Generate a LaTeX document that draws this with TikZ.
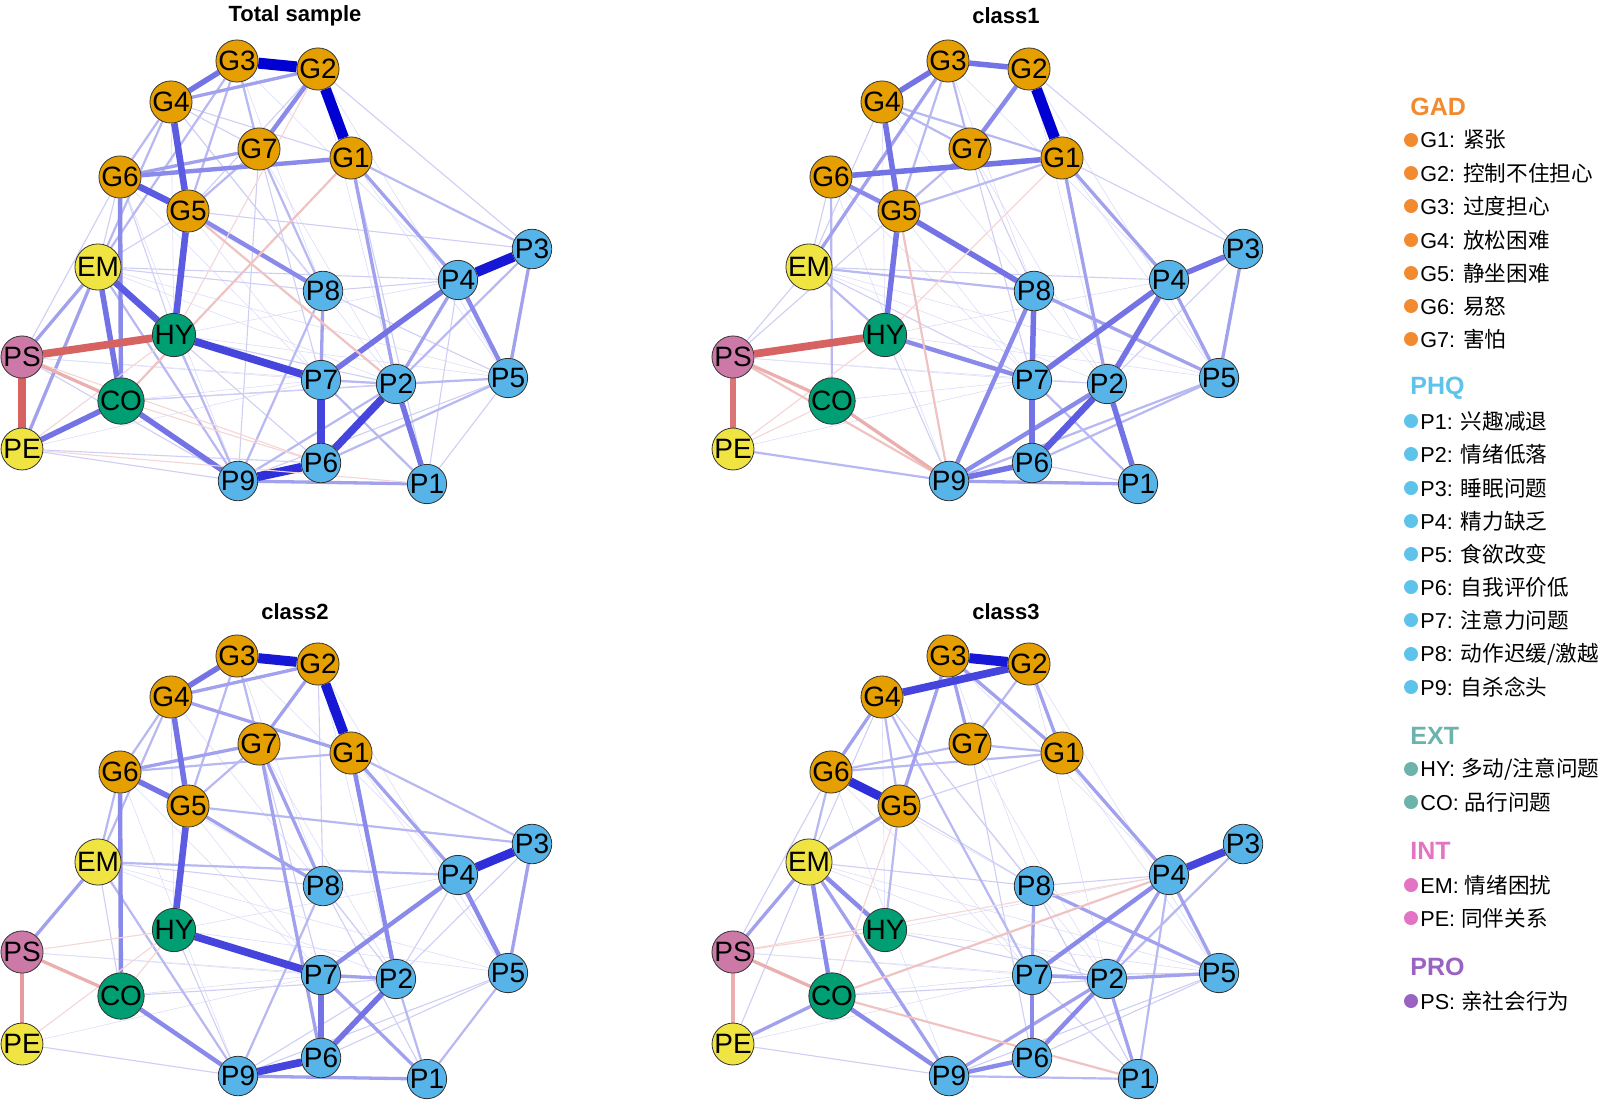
\documentclass[tikz,border=0pt]{standalone}
\usepackage{fontspec}
\setmainfont{Liberation Sans}
\newfontfamily\cjk{Noto Sans CJK SC}
\usepackage{xcolor}
\definecolor{posBlue}{HTML}{0000D2}
\definecolor{negRed}{HTML}{C82828}
\definecolor{gadFill}{HTML}{E69F00}
\definecolor{phqFill}{HTML}{56B4E9}
\definecolor{extFill}{HTML}{009E73}
\definecolor{intFill}{HTML}{F0E442}
\definecolor{proFill}{HTML}{CC79A7}
\definecolor{gadKey}{HTML}{F28A30}
\definecolor{phqKey}{HTML}{5EC3EA}
\definecolor{extKey}{HTML}{6BB3AB}
\definecolor{intKey}{HTML}{E374C4}
\definecolor{proKey}{HTML}{9A62C2}
\usepackage{tikz}
\usetikzlibrary{positioning}
\pgfdeclarelayer{paperLayer}
\pgfdeclarelayer{edgeLayer}
\pgfsetlayers{paperLayer,edgeLayer,main}
\tikzset{%
  itemNode/.style={%
    circle,
    draw=black!80,
    line width=0.4pt,
    minimum size=18pt,
    inner sep=0pt,
    font=\fontsize{14}{14}\selectfont
  },
  gadNode/.style={itemNode, fill=gadFill},
  phqNode/.style={itemNode, fill=phqFill},
  extNode/.style={itemNode, fill=extFill},
  intNode/.style={itemNode, fill=intFill},
  proNode/.style={itemNode, fill=proFill},
  panelTitle/.style={%
    font=\fontsize{11}{11}\selectfont\bfseries
  },
  keyHead/.style={%
    anchor=west,
    inner sep=0pt,
    font=\fontsize{12.5}{12.5}\selectfont\bfseries
  },
  keyDot/.style={%
    circle,
    inner sep=0pt,
    minimum size=7pt
  },
  keyText/.style={%
    anchor=west,
    inner sep=0pt,
    font=\fontsize{10.8}{10.8}\selectfont
  }
}
% the 21 items of one network, shifted by (#2,#3)
\newcommand{\netNodes}[3]{%
  \foreach \n/\x/\y/\s in {G1/351/158/gadNode, G2/318/69/gadNode, G3/237/61/gadNode,
      G4/171/102/gadNode, G5/188/211/gadNode, G6/120/177/gadNode, G7/259/149/gadNode,
      EM/98/267/intNode, PE/22/449/intNode, PS/22/357/proNode,
      HY/174/335/extNode, CO/121/401/extNode,
      P1/427/484/phqNode, P2/396/384/phqNode, P3/532/249/phqNode, P4/458/280/phqNode,
      P5/508/378/phqNode, P6/321/463/phqNode, P7/321/380/phqNode, P8/323/291/phqNode,
      P9/238/481/phqNode}
    \node[\s] (#1\n) at (\x+#2,\y+#3) {\n};
}
% edges: from/to/weight
\newcommand{\posEdges}[2]{%
  \foreach \a/\b/\w in {#2}{%
    \pgfmathsetmacro{\lw}{0.55*\w}%
    \pgfmathtruncatemacro{\mixPct}{10+9*\w}%
    \draw[line width=\lw pt, draw=posBlue!\mixPct!white] (#1\a) -- (#1\b);
  }}
\newcommand{\negEdges}[2]{%
  \foreach \a/\b/\w in {#2}{%
    \pgfmathsetmacro{\lw}{0.55*\w}%
    \pgfmathtruncatemacro{\mixPct}{10+9*\w}%
    \draw[line width=\lw pt, draw=negRed!\mixPct!white] (#1\a) -- (#1\b);
  }}
% very weak links, common to all panels
\newcommand{\faintEdges}[1]{%
  \posEdges{#1}{G2/P5/0.5, G1/P5/0.5, G3/P8/0.5, G4/P2/0.5, G6/P8/0.5, EM/P2/0.5,
    EM/P5/0.5, HY/P4/0.5, HY/P5/0.5, CO/P7/0.5, PE/P7/0.5, PS/P7/0.5, G7/P2/0.5,
    G6/P7/0.5, G5/P7/0.5, G3/P4/0.5, G2/P2/0.5, G4/HY/0.5, G6/P9/0.5, PS/P2/0.5}
}
\newcommand{\keyItem}[4]{%
  \node[keyDot, fill=#2] (dot#1) at (1411,#3) {};
  \node[keyText] (key#1) at (1420,#3) {#1: {\cjk #4}};
}

\begin{document}
\begin{tikzpicture}[x=0.5pt, y=-0.5pt]
  \begin{pgfonlayer}{paperLayer}
  \fill[white] (0,0) rectangle (1600,1104);
  \end{pgfonlayer}
  \useasboundingbox (0,0) rectangle (1600,1104);

  % panel titles
  \node[panelTitle] (titleT) at (295,16) {Total sample};
  \node[panelTitle] (titleA) at (1006,16) {class1};
  \node[panelTitle] (titleB) at (295,612) {class2};
  \node[panelTitle] (titleC) at (1006,612) {class3};

  % nodes
  \netNodes{t}{0}{0}
  \netNodes{a}{711}{0}
  \netNodes{b}{0}{595}
  \netNodes{c}{711}{595}

  \begin{pgfonlayer}{edgeLayer}
  % Total sample
  \faintEdges{t}
  \posEdges{t}{P9/P5/1, PS/G6/1, PS/P9/1, PE/P9/1, EM/P8/1, EM/P4/1, G5/P3/1, G2/P3/1,
    G4/P8/1, G7/P7/1, G6/HY/1, HY/P2/1, CO/P2/1, CO/P5/1, P8/P4/1, P8/P5/1, G1/P1/1,
    G7/P9/1, PE/P6/1, P4/P1/1, P5/P1/1, G4/G7/1, G4/G1/1, G2/G5/1, EM/G5/1, G6/EM/1, HY/P6/1,
    P7/P1/2, G7/P8/2, HY/P9/2, EM/P9/2, P8/P9/2, G1/P3/2, G3/G7/2, G3/G5/2, G4/G6/2,
    G3/EM/2, G4/EM/2, G7/G5/2, P7/P2/2, P2/P5/2, P9/P2/2, P6/P5/2, P3/P2/2,
    G4/G2/3, G6/G7/3, G1/P4/3, G1/P2/3, P8/P7/3, P3/P5/3, P4/P2/3, P9/P1/3, PS/EM/3, PE/EM/3,
    G2/G7/4, G6/G1/4, G6/CO/4, P4/P5/4, G5/P8/4,
    G3/G4/5, EM/CO/5, CO/P9/5, CO/PE/5, P4/P7/5, P2/P1/5,
    G4/G5/6, G6/G5/6, G5/HY/6, EM/HY/6,
    P6/P2/7, P7/P6/7, HY/P7/7, P9/P6/8, P4/P3/9, G3/G2/10, G2/G1/10}
  \negEdges{t}{PS/P6/1, PE/P1/1, CO/P6/1, G2/HY/1, PE/HY/1, G1/CO/2, G5/P2/2,
    PS/CO/3, PS/HY/7, PS/PE/7}
  % class1
  \faintEdges{a}
  \posEdges{a}{G1/P3/1, G2/P3/1, G6/EM/1, EM/P4/1, HY/P9/1, PS/EM/1, PS/G5/1, P7/P2/1,
    P3/P2/1, P6/P1/1, G7/P8/1, G7/P7/1, G4/EM/1, EM/P7/1,
    G3/G7/2, G6/CO/2, EM/P8/2, PE/P9/2, EM/HY/2, P7/P1/2, P9/P5/2, P6/P5/2, G4/G7/2,
    G4/G1/2, G3/G5/2, G7/G5/2, G1/G5/2,
    G3/EM/3, P9/P1/3, P4/P5/3, P3/P5/3, P8/P5/3, G1/P4/3, G1/P2/3,
    G2/G7/4, G6/G5/4, HY/P7/4, P9/P2/4, P9/P8/4,
    G3/G2/5, G3/G4/5, G4/G5/5, G6/G1/5, G5/HY/5, G5/P8/5, P8/P7/5, P7/P6/5, P4/P7/5,
    P4/P2/5, P4/P3/5, P9/P6/5, P2/P1/5, P6/P2/6, G2/G1/10}
  \negEdges{a}{G1/HY/1, PE/CO/1, PE/HY/1, G5/P9/2, PS/P9/2, PS/CO/3, CO/P9/3,
    PS/PE/6, PS/HY/7}
  % class2
  \faintEdges{b}
  \posEdges{b}{HY/P9/1, EM/P8/1, P8/P2/1, P8/P1/1, P4/P2/1, P3/P2/1, P9/P2/1, P9/P5/1,
    P6/P5/1, CO/P2/1, PE/P9/1, G2/P8/1, G7/P7/1, EM/CO/1,
    G1/P3/2, G6/G1/2, P2/P1/2, P5/P1/2, G5/P3/2, EM/P4/2, EM/P9/2, P8/P9/2, G6/EM/2,
    G4/EM/2, G3/G5/2, G7/G5/2, G3/G7/2, G4/G6/2,
    G4/G2/3, G4/G1/3, G2/G7/3, G6/G7/3, G1/P4/3, EM/PS/3, P3/P5/3, P7/P2/3, P7/P1/3,
    P9/P1/3, G5/P8/3, G7/P8/3, G7/P6/3,
    G1/P2/4, G6/CO/4, CO/P9/4, P4/P7/4, P4/P5/4,
    G3/G4/5, G4/G5/5, G6/G5/5, P6/P2/5, P7/P6/5,
    G5/HY/6, HY/P7/7, P9/P6/7, P4/P3/8, G3/G2/9, G2/G1/9}
  \negEdges{b}{PE/HY/1, PS/HY/1, CO/HY/1, PS/CO/3, PS/PE/4}
  % class3
  \faintEdges{c}
  \posEdges{c}{G4/EM/1, P9/P5/1, P6/P5/1, P7/P1/1, P8/P1/1, G7/P6/1, G5/P8/1, G4/P8/1,
    HY/P2/1, P8/P4/1, P7/P5/1, CO/P5/1, PE/P9/1, PS/G6/1, PE/EM/1, G5/G1/1, EM/P8/1,
    G4/G5/2, G6/G1/2, G6/G7/2, G7/G1/2, G5/HY/2, G4/P7/2, P9/P1/2, G2/G7/2, G6/EM/2,
    P4/P1/2, P3/P2/2,
    G3/G1/3, G2/G1/3, G3/G7/3, G4/G6/3, G3/G5/3, G5/EM/3, EM/PS/3, EM/P9/3, PE/CO/3,
    P8/P7/3, P4/P2/3, P4/P5/3, P8/P5/3, P9/P2/3, P2/P1/3, P7/P2/3, P2/P5/3, G1/P4/3,
    EM/HY/4, EM/CO/4, CO/P9/4, P7/P6/4, P4/P7/4, P6/P2/4, P9/P6/4,
    G4/G2/7, P4/P3/7, G6/G5/8, G3/G2/9}
  \negEdges{c}{G5/CO/1, PS/P4/1, PS/HY/1, CO/P1/2, CO/P4/2, PS/CO/3, PS/PE/3}
  \end{pgfonlayer}

  % legend
  \node[keyHead, text=gadKey] (headGAD) at (1410,107) {GAD};
  \keyItem{G1}{gadKey}{140}{紧张}
  \keyItem{G2}{gadKey}{173}{控制不住担心}
  \keyItem{G3}{gadKey}{206}{过度担心}
  \keyItem{G4}{gadKey}{240}{放松困难}
  \keyItem{G5}{gadKey}{273}{静坐困难}
  \keyItem{G6}{gadKey}{306}{易怒}
  \keyItem{G7}{gadKey}{339}{害怕}
  \node[keyHead, text=phqKey] (headPHQ) at (1410,388) {PHQ};
  \keyItem{P1}{phqKey}{421}{兴趣减退}
  \keyItem{P2}{phqKey}{454}{情绪低落}
  \keyItem{P3}{phqKey}{488}{睡眠问题}
  \keyItem{P4}{phqKey}{521}{精力缺乏}
  \keyItem{P5}{phqKey}{554}{食欲改变}
  \keyItem{P6}{phqKey}{587}{自我评价低}
  \keyItem{P7}{phqKey}{620}{注意力问题}
  \keyItem{P8}{phqKey}{654}{动作迟缓/激越}
  \keyItem{P9}{phqKey}{687}{自杀念头}
  \node[keyHead, text=extKey] (headEXT) at (1410,736) {EXT};
  \keyItem{HY}{extKey}{769}{多动/注意问题}
  \keyItem{CO}{extKey}{802}{品行问题}
  \node[keyHead, text=intKey] (headINT) at (1410,851) {INT};
  \keyItem{EM}{intKey}{885}{情绪困扰}
  \keyItem{PE}{intKey}{918}{同伴关系}
  \node[keyHead, text=proKey] (headPRO) at (1410,967) {PRO};
  \keyItem{PS}{proKey}{1001}{亲社会行为}
\end{tikzpicture}
\end{document}
